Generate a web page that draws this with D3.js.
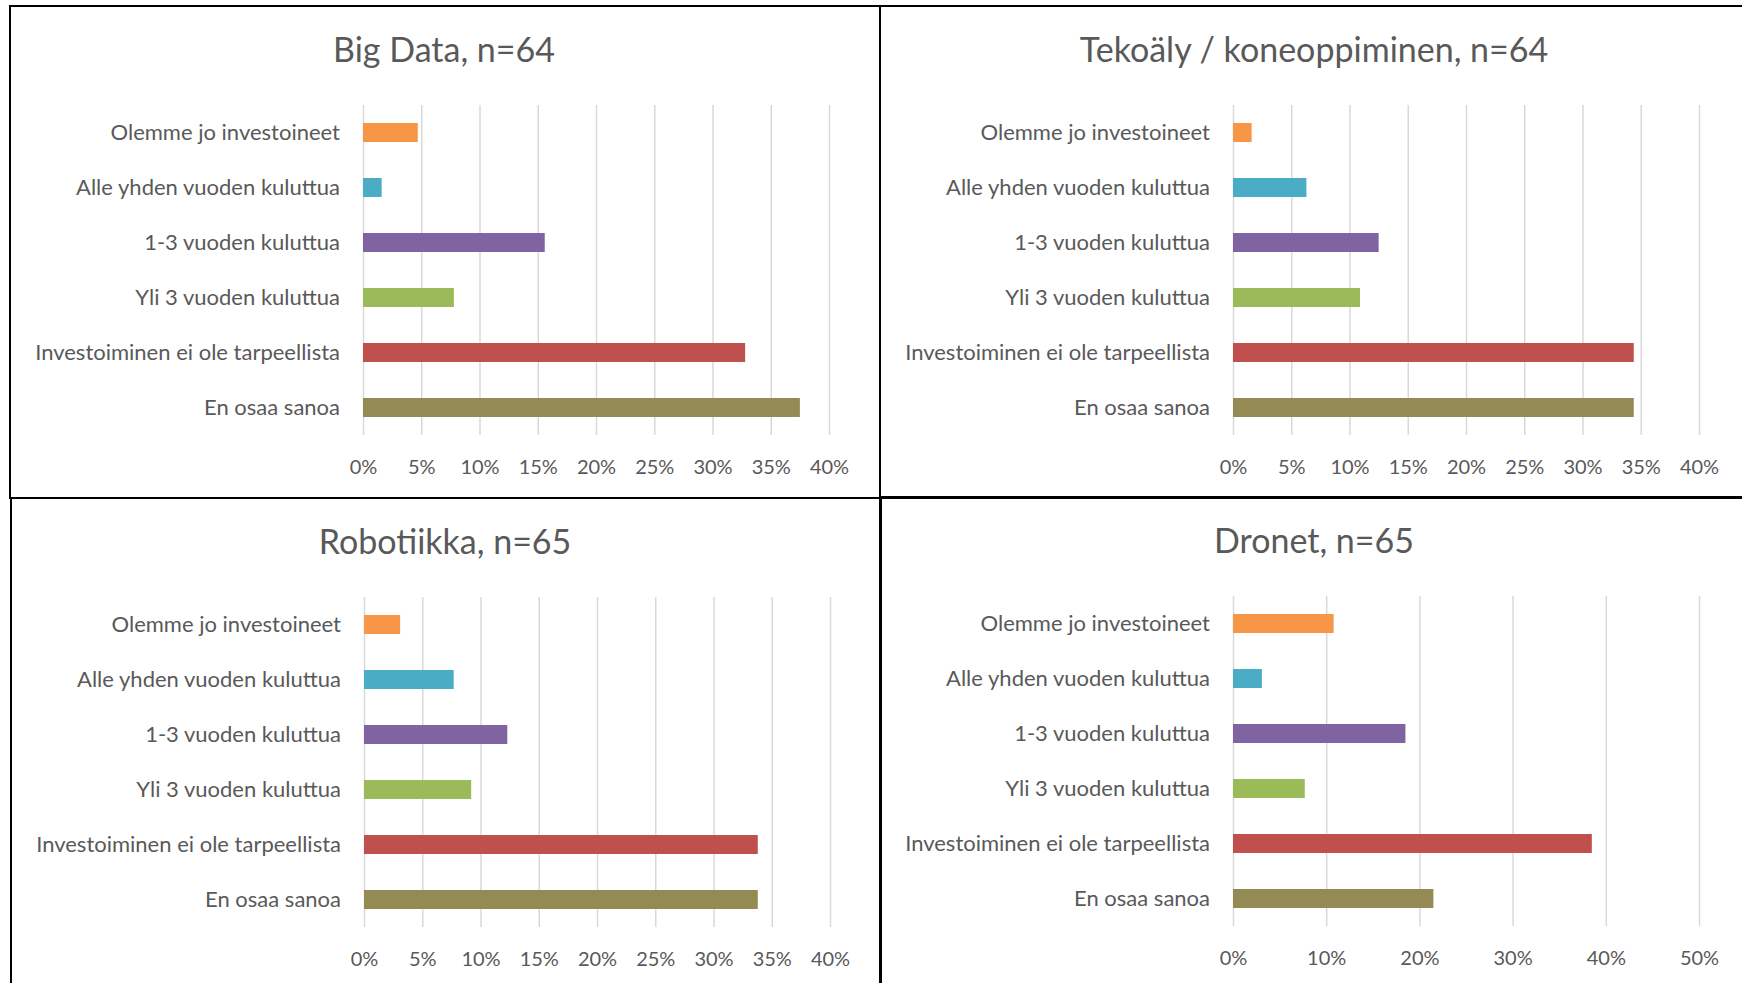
<!DOCTYPE html>
<html>
<head>
<meta charset="utf-8">
<script src="https://cdn.jsdelivr.net/npm/d3@7"></script>
<style>
  body { margin: 0; background: #fff; }
  svg { display: block; }
  text { font-family: Lato, "Open Sans", sans-serif; fill: #595959; }
</style>
</head>
<body>
<div id="chart"></div>
<script>
let width = 1742;
let height = 983;

// data (percent of respondents)
let categories = ["Olemme jo investoineet", "Alle yhden vuoden kuluttua", "1-3 vuoden kuluttua",
                  "Yli 3 vuoden kuluttua", "Investoiminen ei ole tarpeellista", "En osaa sanoa"];
let colors = ["#F79646", "#4BACC6", "#8064A2", "#9BBB59", "#C0504D", "#948A54"];

let titles = ["Big Data, n=64", "Tekoäly / koneoppiminen, n=64", "Robotiikka, n=65", "Dronet, n=65"];
let bigData    = [4.7, 1.6, 15.6, 7.8, 32.8, 37.5];
let tekoaly    = [1.6, 6.3, 12.5, 10.9, 34.4, 34.4];
let robotiikka = [3.1, 7.7, 12.3, 9.2, 33.8, 33.8];
let dronet     = [10.8, 3.1, 18.5, 7.7, 38.5, 21.5];

let ticks40 = [0, 5, 10, 15, 20, 25, 30, 35, 40];
let ticks50 = [0, 10, 20, 30, 40, 50];

// panel frames (left, top) in page pixels
let panels = [
    {x: 10,  y: 6,   title: titles[0], values: bigData,    ticks: ticks40},
    {x: 880, y: 6,   title: titles[1], values: tekoaly,    ticks: ticks40},
    {x: 11,  y: 498, title: titles[2], values: robotiikka, ticks: ticks40},
    {x: 880, y: 497, title: titles[3], values: dronet,     ticks: ticks50}
];

let panelW = 870, panelH = 492;
let plotLeft = 353, plotTop = 99, plotW = 466, plotH = 330;

let svg = d3.select("#chart")
    .append("svg")
    .attr("width", width)
    .attr("height", height);

panels.forEach(function(p) {
    let g = svg.append("g")
        .attr("transform", "translate(" + p.x + "," + p.y + ")");

    // frame
    g.append("rect")
        .attr("x", 0).attr("y", 0)
        .attr("width", panelW).attr("height", panelH)
        .attr("fill", "none")
        .attr("stroke", "#000")
        .attr("stroke-width", 2);

    g.append("text")
        .attr("x", 434)
        .attr("y", 56)
        .attr("text-anchor", "middle")
        .style("font-size", "34px")
        .text(p.title);

    let x = d3.scaleLinear()
        .domain([0, d3.max(p.ticks)])
        .range([0, plotW]);

    let y = d3.scaleBand()
        .domain(categories)
        .range([0, plotH])
        .paddingInner(0.655)
        .paddingOuter(0.3275);

    let plot = g.append("g")
        .attr("transform", "translate(" + plotLeft + "," + plotTop + ")");

    // gridlines + tick labels
    let xAxis = plot.append("g")
        .attr("transform", "translate(0," + plotH + ")")
        .call(d3.axisBottom(x)
            .tickValues(p.ticks)
            .tickSize(-plotH)
            .tickPadding(25)
            .tickFormat(function(d) { return d + "%"; }));
    xAxis.select(".domain").remove();
    xAxis.selectAll(".tick line")
        .attr("stroke", "#d9d9d9")
        .attr("stroke-width", 1.5);
    xAxis.selectAll(".tick text")
        .attr("fill", "#595959")
        .style("font-size", "20px")
        .style("font-family", "Lato, sans-serif");

    // bars
    plot.selectAll("rect.bar")
        .data(p.values)
        .enter()
        .append("rect")
        .attr("class", "bar")
        .attr("x", 0)
        .attr("y", function(d, i) { return y(categories[i]); })
        .attr("width", function(d) { return x(d); })
        .attr("height", y.bandwidth())
        .attr("fill", function(d, i) { return colors[i]; });

    // category labels
    let yAxis = plot.append("g")
        .call(d3.axisLeft(y).tickSize(0).tickPadding(23));
    yAxis.select(".domain").remove();
    yAxis.selectAll(".tick text")
        .attr("fill", "#595959")
        .style("font-size", "22px")
        .style("font-family", "Lato, sans-serif");
});
</script>
</body>
</html>
